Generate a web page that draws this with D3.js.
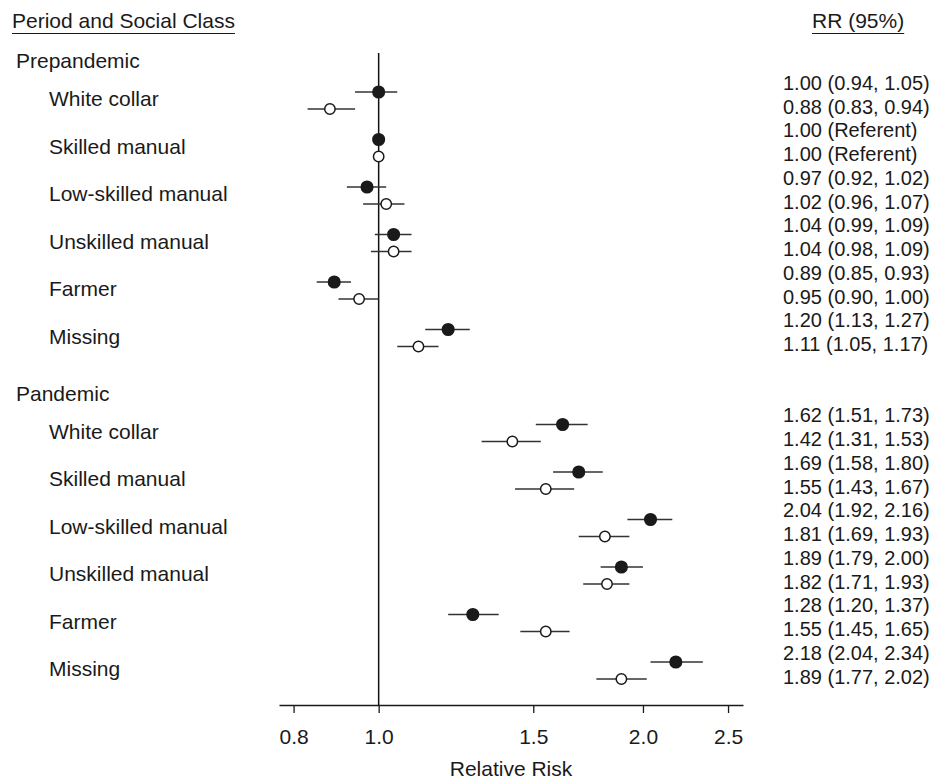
<!DOCTYPE html>
<html>
<head>
<meta charset="utf-8">
<script src="https://cdn.jsdelivr.net/npm/d3@7"></script>
<style>
  body { margin: 0; background: #fff; }
  svg text { font-family: "Liberation Sans", Arial, Helvetica, sans-serif; fill: #1a1a1a; }
</style>
</head>
<body>
<div id="forest"></div>
<script>
const periods = ["Prepandemic", "Pandemic"]
const classes = ["White collar", "Skilled manual", "Low-skilled manual", "Unskilled manual", "Farmer", "Missing"]

// filled markers (first line of each pair), prepandemic then pandemic
const filledRR = [1.00, 1.00, 0.97, 1.04, 0.89, 1.20, 1.62, 1.69, 2.04, 1.89, 1.28, 2.18]
const filledLo = [0.94, null, 0.92, 0.99, 0.85, 1.13, 1.51, 1.58, 1.92, 1.79, 1.20, 2.04]
const filledHi = [1.05, null, 1.02, 1.09, 0.93, 1.27, 1.73, 1.80, 2.16, 2.00, 1.37, 2.34]

// open markers (second line of each pair)
const openRR = [0.88, 1.00, 1.02, 1.04, 0.95, 1.11, 1.42, 1.55, 1.81, 1.82, 1.55, 1.89]
const openLo = [0.83, null, 0.96, 0.98, 0.90, 1.05, 1.31, 1.43, 1.69, 1.71, 1.45, 1.77]
const openHi = [0.94, null, 1.07, 1.09, 1.00, 1.17, 1.53, 1.67, 1.93, 1.93, 1.65, 2.02]

const xTicks = [0.8, 1.0, 1.5, 2.0, 2.5]

const render = () => {
    const width = 939
    const height = 783
    const fontSize = 21

    const svg = d3.select("#forest")
        .append("svg")
        .attr("width", width)
        .attr("height", height)
        .style("font-size", fontSize + "px")

    const xScale = d3.scaleLog()
        .domain([0.77, 2.6])
        .range([279, 743])

    // row index: 0-5 prepandemic, 7-12 pandemic
    const yScale = d3.scaleLinear()
        .domain([0, 12])
        .range([100.5, 670.5])

    const rowIndex = (p, c) => p * 7 + c
    const pairGap = 8.5
    const step = yScale(1) - yScale(0)

    // rows as flat records
    const rows = []
    periods.forEach((p, pi) => {
        classes.forEach((c, ci) => {
            const k = pi * classes.length + ci
            const idx = rowIndex(pi, ci)
            rows.push({ period: p, label: c, idx, kind: "filled", rr: filledRR[k], lo: filledLo[k], hi: filledHi[k], y: yScale(idx) - pairGap, textY: yScale(idx) - 4 - step / 4 })
            rows.push({ period: p, label: c, idx, kind: "open", rr: openRR[k], lo: openLo[k], hi: openHi[k], y: yScale(idx) + pairGap, textY: yScale(idx) - 4 + step / 4 })
        })
    })

    // column headers
    const header = svg.append("g")
    const h1 = header.append("text")
        .attr("x", 12)
        .attr("y", 22)
        .attr("dominant-baseline", "middle")
        .text("Period and Social Class")
    const h2 = header.append("text")
        .attr("x", 812)
        .attr("y", 22)
        .attr("dominant-baseline", "middle")
        .text("RR (95%)")
    ;[h1, h2].forEach(t => {
        const b = t.node().getBBox()
        header.append("line")
            .attr("x1", b.x).attr("x2", b.x + b.width)
            .attr("y1", 33.5).attr("y2", 33.5)
            .attr("stroke", "#1a1a1a")
            .attr("stroke-width", 1.2)
    })

    // period headings
    svg.append("g")
        .selectAll("text")
        .data(periods)
        .join("text")
        .attr("x", 16)
        .attr("y", (d, i) => yScale(rowIndex(i, 0) - 0.8))
        .attr("dominant-baseline", "middle")
        .text(d => d)

    // class labels
    svg.append("g")
        .selectAll("text")
        .data(rows.filter(d => d.kind === "filled"))
        .join("text")
        .attr("x", 49)
        .attr("y", d => yScale(d.idx))
        .attr("dominant-baseline", "middle")
        .text(d => d.label)

    // reference line at RR = 1
    svg.append("line")
        .attr("x1", xScale(1)).attr("x2", xScale(1))
        .attr("y1", 53).attr("y2", 705)
        .attr("stroke", "#111")
        .attr("stroke-width", 1.5)

    // confidence intervals
    svg.append("g")
        .selectAll("line")
        .data(rows.filter(d => d.lo !== null))
        .join("line")
        .attr("x1", d => xScale(d.lo))
        .attr("x2", d => xScale(d.hi))
        .attr("y1", d => d.y)
        .attr("y2", d => d.y)
        .attr("stroke", "#333")
        .attr("stroke-width", 1.5)

    // point estimates
    svg.append("g")
        .selectAll("circle")
        .data(rows)
        .join("circle")
        .attr("cx", d => xScale(d.rr))
        .attr("cy", d => d.y)
        .attr("r", d => d.kind === "filled" ? 5.8 : 5.2)
        .attr("fill", d => d.kind === "filled" ? "#1a1a1a" : "#fff")
        .attr("stroke", "#1a1a1a")
        .attr("stroke-width", 1.5)

    // RR text column
    svg.append("g")
        .style("font-size", "20px")
        .selectAll("text")
        .data(rows)
        .join("text")
        .attr("x", 783)
        .attr("y", d => d.textY)
        .attr("dominant-baseline", "middle")
        .text(d => d.lo === null
            ? `${d.rr.toFixed(2)} (Referent)`
            : `${d.rr.toFixed(2)} (${d.lo.toFixed(2)}, ${d.hi.toFixed(2)})`)

    // x axis
    const xAxis = d3.axisBottom(xScale)
        .tickValues(xTicks)
        .tickFormat(d3.format(".1f"))
        .tickSize(8)
        .tickSizeOuter(0)
        .tickPadding(16)

    const axisG = svg.append("g")
        .attr("transform", `translate(0,705)`)
        .call(xAxis)
    axisG.selectAll("text")
        .style("font-size", fontSize + "px")
        .style("font-family", "\"Liberation Sans\", Arial, sans-serif")
        .attr("fill", "#1a1a1a")
    axisG.selectAll("path, line")
        .attr("stroke", "#1a1a1a")
        .attr("stroke-width", 1.3)

    svg.append("text")
        .attr("x", (xScale.range()[0] + xScale.range()[1]) / 2)
        .attr("y", 770)
        .attr("text-anchor", "middle")
        .attr("dominant-baseline", "middle")
        .text("Relative Risk")
}

render()
</script>
</body>
</html>
